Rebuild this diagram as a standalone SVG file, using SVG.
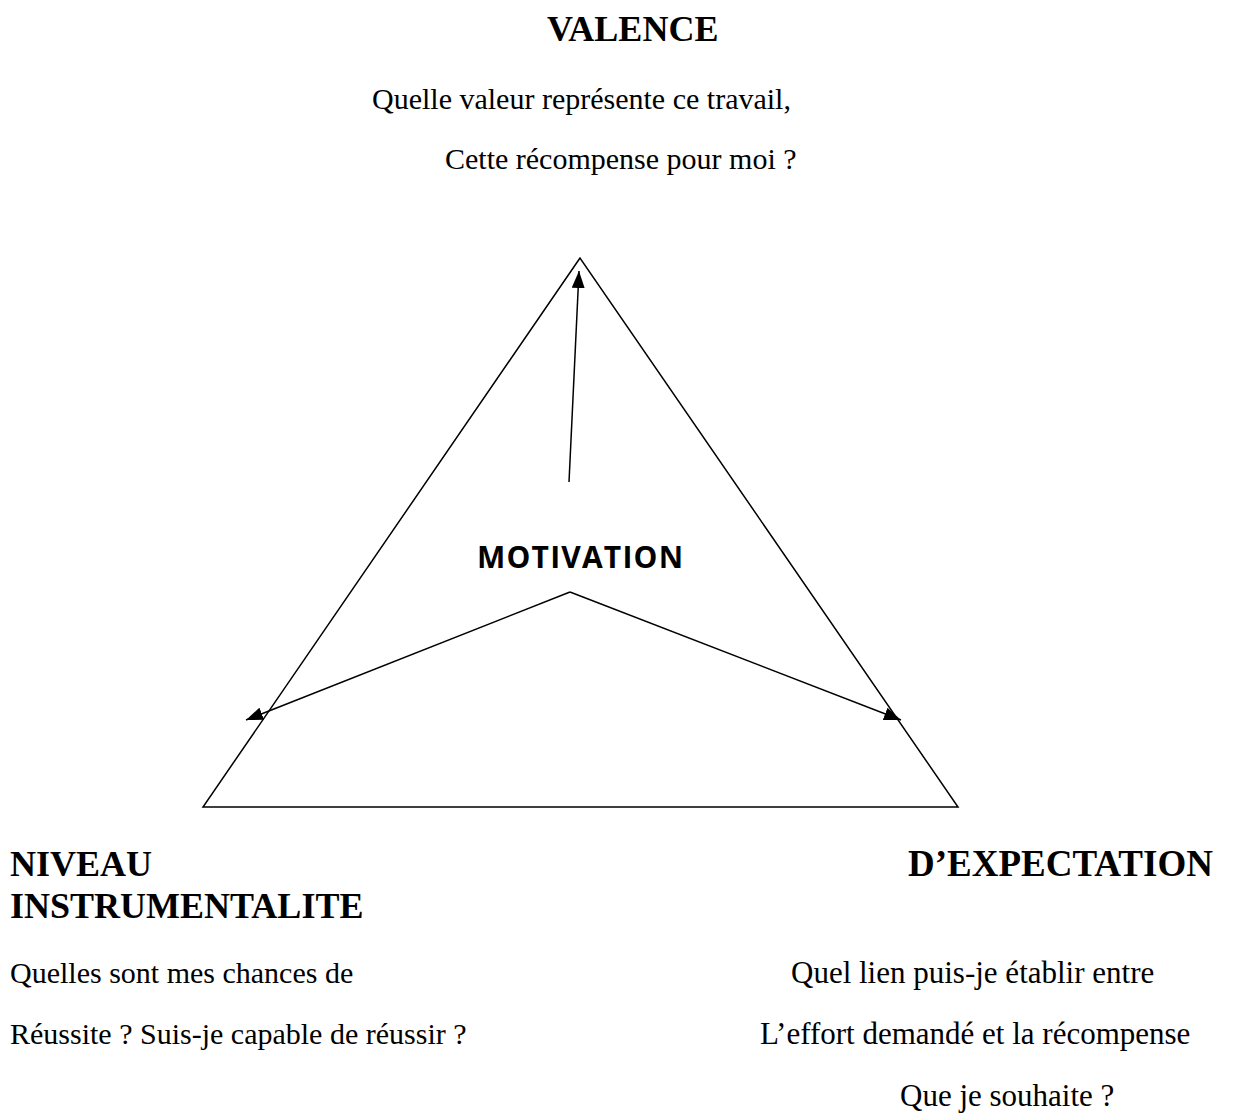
<svg xmlns="http://www.w3.org/2000/svg" width="1242" height="1115" viewBox="0 0 1242 1115">
<style>
.t{font-family:"Liberation Serif","Times New Roman",serif;font-size:30px;fill:#000}
.tr{font-family:"Liberation Serif","Times New Roman",serif;font-size:31px;fill:#000}
.h{font-family:"Liberation Serif","Times New Roman",serif;font-size:36px;font-weight:bold;fill:#000}
.hr{font-family:"Liberation Serif","Times New Roman",serif;font-size:37px;font-weight:bold;fill:#000}
.m{font-family:"Open Sans","Noto Sans",sans-serif;font-size:30px;font-weight:bold;letter-spacing:1.2px;fill:#000}
.ln{fill:none;stroke:#000;stroke-width:1.5}
</style>
<defs>
<marker id="ah" viewBox="0 0 17 13" refX="17" refY="6.5" markerWidth="17" markerHeight="13" markerUnits="userSpaceOnUse" orient="auto">
<path d="M0,0 L17,6.5 L0,13 Z" fill="#000"/>
</marker>
</defs>
<rect width="1242" height="1115" fill="#fff"/>
<g id="triangle"><path class="ln" d="M580,258 L203,807 L958,807 Z"/></g>
<g id="valence">
<text class="h" x="547" y="41">VALENCE</text>
<text class="t" x="372" y="109">Quelle valeur représente ce travail,</text>
<text class="t" x="445" y="169">Cette récompense pour moi ?</text>
</g>
<g id="motivation"><text class="m" x="477" y="568">MOTIVATION</text></g>
<g id="instrumentalite">
<text class="h" x="10" y="876">NIVEAU</text>
<text class="h" x="10" y="918">INSTRUMENTALITE</text>
<text class="t" x="10" y="983">Quelles sont mes chances de</text>
<text class="t" x="10" y="1044">Réussite ? Suis-je capable de réussir ?</text>
</g>
<g id="expectation">
<text class="hr" x="908" y="876">D’EXPECTATION</text>
<text class="tr" x="791" y="983">Quel lien puis-je établir entre</text>
<text class="tr" x="760" y="1044">L’effort demandé et la récompense</text>
<text class="tr" x="900" y="1106">Que je souhaite ?</text>
</g>
<g id="connectors">
<path class="ln" d="M569,482 L579,271" marker-end="url(#ah)"/>
<path class="ln" d="M570,592 L246,720" marker-end="url(#ah)"/>
<path class="ln" d="M570,592 L901,720" marker-end="url(#ah)"/>
</g>
</svg>
